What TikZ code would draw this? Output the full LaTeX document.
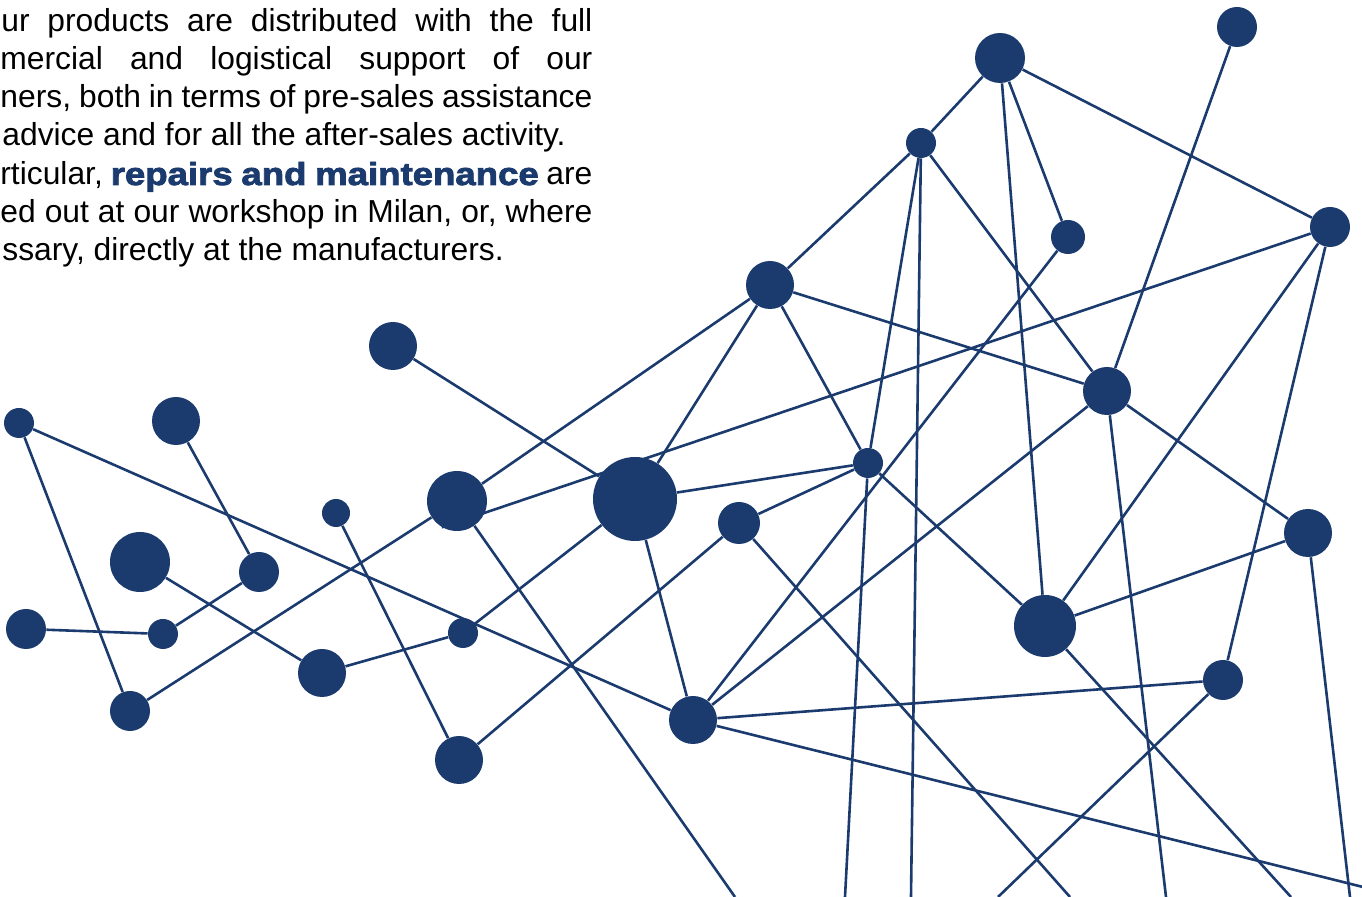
\documentclass[tikz,border=0pt]{standalone}
\usepackage{fontspec}
\setmainfont{Liberation Sans}
\newfontfamily\heavyfont{Liberation Sans}[FakeStretch=1.15, FakeBold=2.6]
\definecolor{netblue}{RGB}{27,58,110}
\tikzset{
  dot/.style={circle, fill=netblue, inner sep=0pt, minimum size=#1pt},
  link/.style={draw=netblue, line width=1.3pt},
  txt/.style={anchor=base west, inner sep=0pt, font=\fontsize{15.9pt}{19pt}\selectfont}
}
\begin{document}
\begin{tikzpicture}[x = 0.5pt, y = -0.5pt]
\useasboundingbox (0, 0) rectangle (1362, 897);
\clip (0, 0) rectangle (1362, 897);

\node[txt] (txt1) at (1, 32) {\makebox[295.5pt][s]{ur products are distributed with the full}};
\node[txt] (txt2) at (0, 70) {\makebox[296pt][s]{mercial and logistical support of our}};
\node[txt] (txt3) at (0, 108) {\makebox[296pt][s]{ners, both in terms of pre-sales assistance}};
\node[txt] (txt4) at (2, 146) {advice and for all the after-sales activity.};
\node[txt] (txt5) at (0, 185) {\makebox[296pt][s]{rticular, {\heavyfont\bfseries\color{netblue}repairs and maintenance} are}};
\node[txt] (txt6) at (0, 223) {\makebox[296pt][s]{ed out at our workshop in Milan, or, where}};
\node[txt] (txt7) at (2, 261) {ssary, directly at the manufacturers.};

\node[dot=25] (A) at (1000, 58) {};
\node[dot=20] (B) at (1237, 27) {};
\node[dot=15] (C) at (921, 143) {};
\node[dot=17] (D) at (1068, 237) {};
\node[dot=20] (E) at (1330, 227) {};
\node[dot=24] (F) at (770, 285) {};
\node[dot=24] (G) at (1107, 391) {};
\node[dot=24] (H) at (393, 346) {};
\node[dot=15] (I) at (868, 463) {};
\node[dot=42] (J) at (635, 499) {};
\node[dot=30] (K) at (457, 501) {};
\node[dot=21] (L) at (739, 523) {};
\node[dot=24] (M) at (1308, 533) {};
\node[dot=31] (N) at (1045, 626) {};
\node[dot=20] (O) at (1223, 680) {};
\node[dot=24] (P) at (693, 720) {};
\node[dot=24] (Q) at (459, 760) {};
\node[dot=15] (R) at (19, 423) {};
\node[dot=24] (S) at (176, 421) {};
\node[dot=14] (T) at (336, 513) {};
\node[dot=30] (U) at (140, 562) {};
\node[dot=20] (V) at (259, 572) {};
\node[dot=20] (W) at (26, 629) {};
\node[dot=15] (X) at (163, 634) {};
\node[dot=24] (Y) at (322, 673) {};
\node[dot=15] (Z) at (463, 633) {};
\node[dot=20] (Rb) at (130, 711) {};

\coordinate (Kout) at (735, 897);
\coordinate (Iout) at (845, 897);
\coordinate (Cout) at (911, 897);
\coordinate (Oout) at (998, 897);
\coordinate (Lout) at (1070, 897);
\coordinate (Gout) at (1166, 897);
\coordinate (Nout) at (1291, 897);
\coordinate (Mout) at (1350, 897);
\coordinate (Pout) at (1363, 887);

\draw[link] (A) -- (C);
\draw[link] (A) -- (E);
\draw[link] (A) -- (D);
\draw[link] (A) -- (N);
\draw[link] (B) -- (G);
\draw[link] (C) -- (F);
\draw[link] (C) -- (I);
\draw[link] (C) -- (Cout);
\draw[link] (C) -- (G);
\draw[link] (D) -- (P);
\draw[link] (K.-120) -- (E);
\draw[link] (E) -- (N);
\draw[link] (E) -- (O);
\draw[link] (F) -- (K);
\draw[link] (F) -- (J);
\draw[link] (F) -- (I);
\draw[link] (F) -- (G);
\draw[link] (G) -- (P);
\draw[link] (G) -- (M);
\draw[link] (G) -- (Gout);
\draw[link] (H) -- (J);
\draw[link] (I) -- (J);
\draw[link] (I) -- (L);
\draw[link] (I) -- (N);
\draw[link] (I) -- (Iout);
\draw[link] (J) -- (P);
\draw[link] (Z) -- (J);
\draw[link] (L) -- (Q);
\draw[link] (L) -- (Lout);
\draw[link] (M) -- (N);
\draw[link] (M) -- (Mout);
\draw[link] (N) -- (Nout);
\draw[link] (O) -- (P);
\draw[link] (O) -- (Oout);
\draw[link] (P) -- (Pout);
\draw[link] (R) -- (P);
\draw[link] (R) -- (Rb);
\draw[link] (S) -- (V);
\draw[link] (U) -- (Y);
\draw[link] (V) -- (X);
\draw[link] (W) -- (X);
\draw[link] (Rb) -- (K);
\draw[link] (T) -- (Q);
\draw[link] (Y) -- (Z);
\draw[link] (K) -- (Kout);
\end{tikzpicture}
\end{document}
